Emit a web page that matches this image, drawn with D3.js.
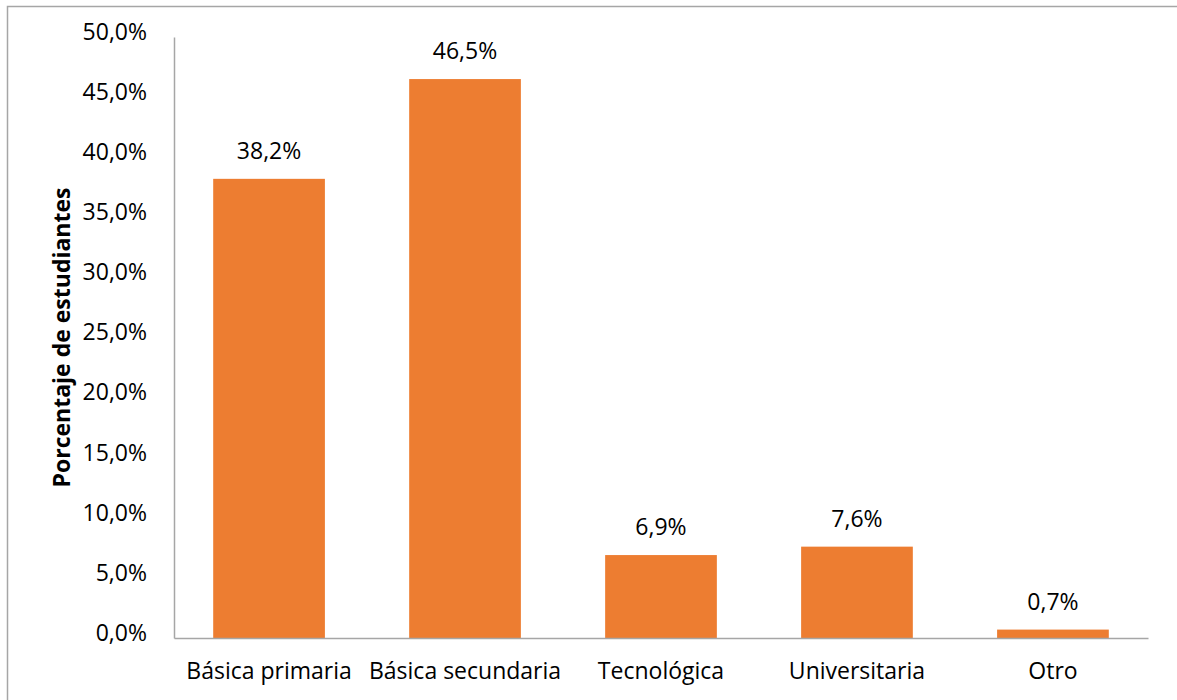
<!DOCTYPE html>
<html>
<head>
<meta charset="utf-8">
<script src="https://cdn.jsdelivr.net/npm/d3@7"></script>
<style>
  body { margin: 0; background: #fff; }
  text { font-family: "Open Sans", Lato, sans-serif; fill: #000; }
</style>
</head>
<body>
<div id="chart"></div>
<script>
// datos del gráfico
const categorias = ['Básica primaria', 'Básica secundaria', 'Tecnológica', 'Universitaria', 'Otro'];
const valores = [38.2, 46.5, 6.9, 7.6, 0.7];
const ticksY = [0, 5, 10, 15, 20, 25, 30, 35, 40, 45, 50];

const width = 1177, height = 700;
const margin = { left: 174, right: 29, top: 37, bottom: 62 };
const fs = 23;

const svg = d3.select('#chart').append('svg')
    .attr('width', width)
    .attr('height', height);

// marco exterior
svg.append('rect')
    .attr('x', 7.5).attr('y', 6.5)
    .attr('width', width + 20).attr('height', height + 20)
    .attr('fill', 'none')
    .attr('stroke', '#a6a6a6')
    .attr('stroke-width', 1.5);

const x = d3.scaleBand()
    .domain(categorias)
    .range([margin.left, width - margin.right])
    .paddingInner(0.43)
    .paddingOuter(0.2);

const y = d3.scaleLinear()
    .domain([0, 50])
    .range([height - margin.bottom, margin.top]);

const fmt = v => d3.format('.1f')(v).replace('.', ',') + '%';

// barras
svg.append('g')
    .selectAll('rect')
    .data(valores)
    .enter()
    .append('rect')
    .attr('x', (d, i) => x(categorias[i]))
    .attr('y', d => y(d))
    .attr('width', x.bandwidth())
    .attr('height', d => y(0) - y(d))
    .attr('fill', '#ed7d31');

// etiquetas de valores
svg.append('g')
    .selectAll('text')
    .data(valores)
    .enter()
    .append('text')
    .attr('x', (d, i) => x(categorias[i]) + x.bandwidth() / 2)
    .attr('y', d => y(d) - 20)
    .attr('text-anchor', 'middle')
    .attr('font-size', fs)
    .text(d => fmt(d));

// eje Y
const yAxis = svg.append('g')
    .attr('transform', `translate(${margin.left},0)`)
    .call(d3.axisLeft(y).tickValues(ticksY).tickSize(0).tickPadding(27).tickFormat(fmt));
yAxis.select('.domain').attr('stroke', '#a6a6a6').attr('stroke-width', 1.5);
yAxis.selectAll('text').attr('font-size', fs).attr('dy', '0.1em');

// eje X
const xAxis = svg.append('g')
    .attr('transform', `translate(0,${y(0)})`)
    .call(d3.axisBottom(x).tickSize(0).tickPadding(25));
xAxis.select('.domain').attr('stroke', '#a6a6a6').attr('stroke-width', 1.5);
xAxis.selectAll('text').attr('font-size', fs);

// título del eje Y
svg.append('text')
    .attr('transform', `translate(70,${(y(0) + y(50)) / 2}) rotate(-90)`)
    .attr('text-anchor', 'middle')
    .attr('font-size', fs)
    .attr('font-weight', 'bold')
    .text('Porcentaje de estudiantes');
</script>
</body>
</html>
